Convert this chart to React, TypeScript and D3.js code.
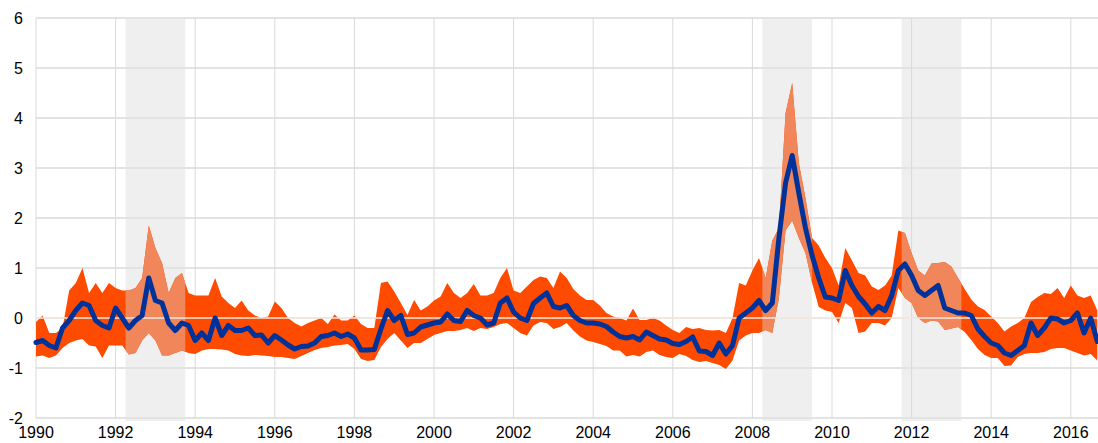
import React, { useRef, useEffect } from "react";
import * as d3 from "d3";

// bimonthly observations starting Jan 1990
const startYear = 1990;
const stepsPerYear = 6;

const upper = [
  -0.08, 0.05, -0.3, -0.3, -0.2, 0.55, 0.7, 1.0, 0.5, 0.7, 0.5, 0.7, 0.6, 0.55, 0.55, 0.6, 0.8, 1.85, 1.4, 1.1,
  0.5, 0.8, 0.9, 0.5, 0.45, 0.45, 0.45, 0.8, 0.43, 0.3, 0.2, 0.35, 0.15, 0.05, 0.0, 0.03, 0.33, 0.2, 0.0, -0.1,
  -0.17, -0.1, -0.05, 0.0, -0.12, 0.07, -0.05, -0.05, 0.05, -0.12, -0.2, -0.2, 0.7, 0.73, 0.53, 0.3, 0.06, 0.36, 0.15, 0.23,
  0.35, 0.43, 0.7, 0.5, 0.4, 0.5, 0.68, 0.45, 0.45, 0.5, 0.8, 1.0, 0.55, 0.5, 0.63, 0.76, 0.83, 0.8, 0.6, 0.93,
  0.8, 0.58, 0.45, 0.36, 0.36, 0.25, 0.1, 0.03, 0.0, -0.05, 0.19, -0.04, -0.04, 0.0, -0.05, -0.15, -0.24, -0.3, -0.18, -0.22,
  -0.2, -0.24, -0.25, -0.24, -0.3, 0.0, 0.7, 0.65, 0.95, 1.2, 0.8, 1.55, 1.8, 4.1, 4.7, 3.1, 2.4, 1.6, 1.45, 1.2,
  1.0, 0.65, 1.4, 1.15, 0.9, 0.85, 0.63, 0.56, 0.65, 0.85, 1.75, 1.7, 1.3, 0.95, 0.85, 1.09, 1.1, 1.12, 1.03, 0.8,
  0.58, 0.37, 0.23, 0.16, 0.03, -0.1, -0.27, -0.17, -0.1, 0.0, 0.32, 0.42, 0.5, 0.48, 0.6, 0.4, 0.65, 0.45, 0.4, 0.45,
  0.15,
];

const lower = [
  -0.77, -0.75, -0.8, -0.75, -0.6, -0.5, -0.45, -0.42, -0.55, -0.57, -0.8, -0.55, -0.55, -0.55, -0.73, -0.7, -0.45, -0.3, -0.45, -0.75,
  -0.75, -0.7, -0.65, -0.7, -0.72, -0.65, -0.62, -0.62, -0.63, -0.65, -0.72, -0.75, -0.76, -0.74, -0.75, -0.76, -0.78, -0.78, -0.8, -0.82,
  -0.76, -0.7, -0.64, -0.6, -0.58, -0.55, -0.54, -0.52, -0.62, -0.82, -0.86, -0.84, -0.58, -0.42, -0.3, -0.45, -0.6, -0.5, -0.5, -0.42,
  -0.34, -0.3, -0.26, -0.26, -0.24, -0.2, -0.26, -0.2, -0.22, -0.18, -0.12, -0.1, -0.2, -0.3, -0.35, -0.15, -0.08, -0.1, -0.22, -0.18,
  -0.1, -0.25, -0.37, -0.45, -0.48, -0.52, -0.56, -0.65, -0.65, -0.77, -0.74, -0.77, -0.68, -0.65, -0.74, -0.78, -0.8, -0.72, -0.76, -0.84,
  -0.88, -0.86, -0.9, -0.94, -1.02, -0.85, -0.45, -0.35, -0.3, -0.3, -0.24, -0.3, 0.4, 1.75, 1.95, 1.6, 1.3, 0.7, 0.22, 0.15,
  0.12, -0.1, 0.3, 0.2, -0.3, -0.27, -0.1, -0.1, -0.15, 0.0, 0.6, 0.4, 0.3, 0.0, -0.1, -0.05, -0.07, -0.24, -0.21, -0.18,
  -0.28, -0.44, -0.62, -0.74, -0.8, -0.8, -0.96, -0.95, -0.78, -0.72, -0.7, -0.7, -0.68, -0.62, -0.6, -0.6, -0.65, -0.7, -0.75, -0.72,
  -0.85,
];

const median = [
  -0.49, -0.45, -0.55, -0.6, -0.2, -0.05, 0.15, 0.3, 0.25, -0.05, -0.15, -0.2, 0.2, 0.0, -0.2, -0.05, 0.05, 0.8, 0.35, 0.3,
  -0.1, -0.25, -0.1, -0.15, -0.45, -0.3, -0.45, 0.0, -0.35, -0.15, -0.25, -0.25, -0.2, -0.35, -0.34, -0.5, -0.35, -0.44, -0.54, -0.62,
  -0.57, -0.56, -0.5, -0.37, -0.35, -0.3, -0.37, -0.32, -0.4, -0.64, -0.64, -0.63, -0.22, 0.15, -0.05, 0.05, -0.33, -0.3, -0.18, -0.14,
  -0.1, -0.08, 0.08, -0.05, -0.07, 0.15, 0.05, 0.0, -0.14, -0.1, 0.3, 0.4, 0.12, 0.0, -0.05, 0.29, 0.4, 0.5, 0.23, 0.2,
  0.25, 0.05, -0.05, -0.1, -0.1, -0.12, -0.17, -0.28, -0.37, -0.4, -0.37, -0.44, -0.28, -0.35, -0.42, -0.44, -0.51, -0.53, -0.47, -0.38,
  -0.66, -0.67, -0.75, -0.5, -0.72, -0.55, 0.0, 0.1, 0.2, 0.35, 0.15, 0.3, 1.6, 2.7, 3.25, 2.5, 1.8, 1.25, 0.8, 0.42,
  0.4, 0.35, 0.95, 0.65, 0.43, 0.28, 0.1, 0.23, 0.15, 0.45, 0.95, 1.08, 0.85, 0.55, 0.45, 0.55, 0.65, 0.2, 0.15, 0.1,
  0.1, 0.05, -0.22, -0.37, -0.5, -0.55, -0.7, -0.75, -0.65, -0.55, -0.1, -0.35, -0.2, 0.0, -0.02, -0.1, -0.05, 0.1, -0.3, 0.0,
  -0.47,
];

const shaded = [
  [1992.25, 1993.75],
  [2008.25, 2009.5],
  [2011.75, 2013.25],
];

const yTicks = [-2, -1, 0, 1, 2, 3, 4, 5, 6];
const xTicks = [1990, 1992, 1994, 1996, 1998, 2000, 2002, 2004, 2006, 2008, 2010, 2012, 2014, 2016];

const W = 1098;
const H = 443;

const App = () => {
  const chartRef = useRef<SVGSVGElement>(null);

  useEffect(() => {
    drawChart();
  }, []);

  const drawChart = () => {
    if (!chartRef.current) return;
    const svg = d3.select(chartRef.current);
    svg.selectAll("*").remove();

    const data = median.map((m, i) => ({
      date: startYear + i / stepsPerYear,
      lo: lower[i],
      hi: upper[i],
      mid: m,
    }));

    const x = d3.scaleLinear().domain([1990, 2016.7]).range([36, 36 + 26.7 * 39.8]);
    const y = d3.scaleLinear().domain([-2, 6]).range([418, 18]);

    const font = "'Liberation Sans', Arial, sans-serif";

    // shaded periods
    svg
      .append("g")
      .selectAll("rect")
      .data(shaded)
      .enter()
      .append("rect")
      .attr("x", (d) => x(d[0]))
      .attr("width", (d) => x(d[1]) - x(d[0]))
      .attr("y", y(6))
      .attr("height", y(-2) - y(6) + 3)
      .attr("fill", "#efefef");

    // grid
    svg
      .append("g")
      .selectAll("line")
      .data(yTicks)
      .enter()
      .append("line")
      .attr("x1", x(1990))
      .attr("x2", W)
      .attr("y1", (d) => y(d))
      .attr("y2", (d) => y(d))
      .attr("stroke", "#e3e3e3")
      .attr("stroke-width", 2);

    svg
      .append("g")
      .selectAll("line")
      .data(xTicks)
      .enter()
      .append("line")
      .attr("x1", (d) => x(d))
      .attr("x2", (d) => x(d))
      .attr("y1", y(6))
      .attr("y2", y(-2))
      .attr("stroke", "#d9d9d9")
      .attr("stroke-width", 1);

    // clip for shaded periods
    const clip = svg.append("defs").append("clipPath").attr("id", "shadeClip");
    clip
      .selectAll("rect")
      .data(shaded)
      .enter()
      .append("rect")
      .attr("x", (d) => x(d[0]))
      .attr("width", (d) => x(d[1]) - x(d[0]))
      .attr("y", 0)
      .attr("height", H);

    const area = d3
      .area<any>()
      .x((d) => x(d.date))
      .y0((d) => y(d.lo))
      .y1((d) => y(d.hi));

    svg.append("path").datum(data).attr("d", area).attr("fill", "#ff4b00");
    svg
      .append("path")
      .datum(data)
      .attr("d", area)
      .attr("fill", "#f08659")
      .attr("clip-path", "url(#shadeClip)");

    // zero line on top of the range
    svg
      .append("line")
      .attr("x1", x(1990))
      .attr("x2", W)
      .attr("y1", y(0))
      .attr("y2", y(0))
      .attr("stroke", "#f2e8e2")
      .attr("stroke-opacity", 0.75)
      .attr("stroke-width", 2);

    const line = d3
      .line<any>()
      .x((d) => x(d.date))
      .y((d) => y(d.mid));

    svg
      .append("path")
      .datum(data)
      .attr("d", line)
      .attr("fill", "none")
      .attr("stroke", "#003299")
      .attr("stroke-width", 5)
      .attr("stroke-linejoin", "round")
      .attr("stroke-linecap", "round");

    // labels
    svg
      .append("g")
      .selectAll("text")
      .data(yTicks)
      .enter()
      .append("text")
      .attr("x", 23)
      .attr("y", (d) => y(d))
      .attr("dy", "0.36em")
      .attr("text-anchor", "end")
      .style("font-family", font)
      .style("font-size", "16px")
      .style("fill", "#000")
      .text((d) => d);

    svg
      .append("g")
      .selectAll("text")
      .data(xTicks)
      .enter()
      .append("text")
      .attr("x", (d) => x(d))
      .attr("y", 438)
      .attr("text-anchor", "middle")
      .style("font-family", font)
      .style("font-size", "16px")
      .style("fill", "#000")
      .text((d) => d);
  };

  return (
    <svg
      ref={chartRef}
      width={W}
      height={H}
      style={{ position: "absolute", left: 0, top: 0, background: "#fff" }}
    />
  );
};

export default App;
